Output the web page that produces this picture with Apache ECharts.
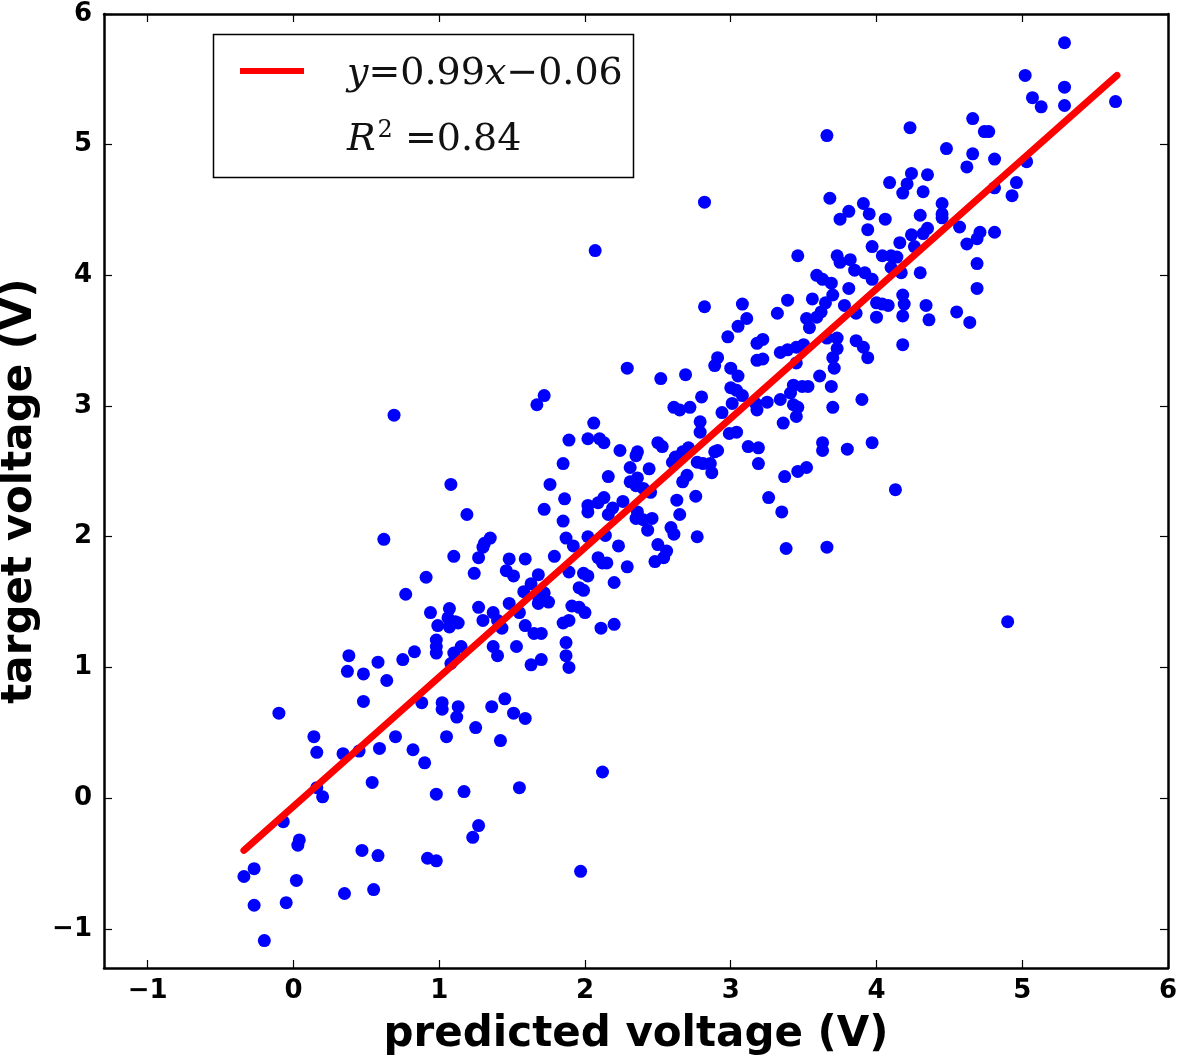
<!DOCTYPE html>
<html lang="en">

<head>
    <meta charset="UTF-8">
    <title>predicted vs target voltage</title>
    <style>
        html, body { margin: 0; padding: 0; background: #fff; }
        #main { width: 1178px; height: 1060px; }
    </style>
</head>

<body>
    <div id="main"></div>
    <script src="https://cdn.jsdelivr.net/npm/echarts@6/dist/echarts.min.js"></script>
    <script>
        // [predicted, target] pairs
        const points = [
            [-0.10, 0.65], [0.38, 1.09], [0.37, 0.97], [0.48, 0.95], [0.58, 1.04], [0.64, 0.90], [0.75, 1.06], [0.83, 1.12],
            [0.48, 0.74], [0.98, 1.21], [0.98, 1.16], [0.98, 1.11], [0.99, 1.32], [1.07, 1.31], [1.13, 1.34], [1.10, 1.11],
            [1.15, 1.16], [1.08, 1.03], [0.88, 0.73], [1.02, 0.73], [1.02, 0.68], [1.13, 0.70], [1.12, 0.62], [1.25, 0.54],
            [1.05, 0.47], [1.36, 0.70], [0.14, 0.47], [0.16, 0.35], [0.34, 0.34], [0.45, 0.36], [0.59, 0.38], [0.70, 0.47],
            [0.82, 0.37], [0.90, 0.27], [0.54, 0.12], [0.16, 0.08], [0.20, 0.01], [0.98, 0.03], [1.17, 0.05], [-0.07, -0.18],
            [0.04, -0.32], [0.03, -0.36], [1.27, -0.21], [1.23, -0.30], [0.47, -0.40], [0.58, -0.44], [0.92, -0.46], [0.98, -0.48],
            [-0.27, -0.54], [-0.34, -0.60], [0.02, -0.63], [0.35, -0.73], [0.55, -0.70], [-0.27, -0.82], [-0.05, -0.80], [-0.20, -1.09],
            [2.12, 0.20], [1.97, -0.56], [1.55, 0.08], [1.42, 0.44], [1.45, 0.76], [1.51, 0.65], [1.59, 0.61],
            [0.69, 2.93], [1.89, 2.74], [2.02, 2.75], [1.85, 2.56], [1.76, 2.40], [1.86, 2.29], [2.02, 2.24], [2.02, 2.19],
            [1.72, 2.21], [1.85, 2.12], [1.08, 2.40], [1.19, 2.17], [0.62, 1.98], [1.35, 1.99], [1.31, 1.95], [1.30, 1.92],
            [1.10, 1.85], [1.27, 1.84], [1.24, 1.72], [1.48, 1.83], [1.59, 1.83], [1.46, 1.74], [1.51, 1.70], [0.91, 1.69],
            [0.77, 1.56], [1.87, 1.99], [1.92, 1.93], [1.79, 1.85], [1.89, 1.73], [1.99, 1.72], [1.96, 1.61], [1.99, 1.59],
            [1.68, 1.71], [1.63, 1.64], [1.58, 1.58], [1.68, 1.54], [1.72, 1.57], [1.75, 1.50], [1.68, 1.49], [1.48, 1.49],
            [1.55, 1.42], [0.94, 1.42], [1.07, 1.45], [1.06, 1.38], [1.11, 1.35], [1.27, 1.46], [1.30, 1.36], [1.37, 1.42],
            [1.40, 1.36], [1.43, 1.30], [1.59, 1.32], [1.65, 1.26], [1.70, 1.26], [1.85, 1.34], [1.89, 1.36], [1.91, 1.47],
            [1.96, 1.46], [2.00, 1.42], [1.37, 1.16], [1.40, 1.09], [1.53, 1.16], [1.63, 1.02], [1.70, 1.06], [1.87, 1.19],
            [1.87, 1.09], [1.89, 1.00],
            [1.72, 3.08], [1.67, 3.01], [2.80, 3.07], [2.61, 2.99], [2.65, 2.97], [2.72, 2.99], [3.00, 3.14], [3.04, 3.12],
            [3.01, 3.02], [2.94, 2.95], [2.79, 2.88], [2.79, 2.80], [2.99, 2.79], [3.04, 2.80], [2.06, 2.87], [2.10, 2.75],
            [2.13, 2.72], [2.50, 2.72], [2.53, 2.69], [2.24, 2.66], [2.36, 2.65], [2.35, 2.62], [2.67, 2.65], [2.62, 2.61],
            [2.60, 2.57], [2.91, 2.66], [2.89, 2.65], [2.31, 2.53], [2.44, 2.52], [2.77, 2.57], [2.81, 2.56], [2.86, 2.56],
            [2.87, 2.49], [2.70, 2.47], [2.67, 2.42], [2.16, 2.46], [2.31, 2.42], [2.36, 2.45], [2.35, 2.39], [2.40, 2.37],
            [2.45, 2.34], [2.76, 2.31], [2.63, 2.28], [2.65, 2.17], [2.13, 2.30], [2.09, 2.26], [2.26, 2.27], [2.19, 2.22],
            [2.16, 2.17], [2.36, 2.19], [2.35, 2.14], [2.40, 2.13], [2.46, 2.14], [2.43, 2.05], [2.59, 2.07], [2.61, 2.02],
            [2.77, 2.00], [2.02, 2.00], [2.14, 2.01], [2.23, 1.93], [2.50, 1.94], [2.56, 1.89], [2.54, 1.84], [2.48, 1.81],
            [2.09, 1.84], [2.12, 1.80], [2.15, 1.80], [2.29, 1.77], [2.20, 1.65], [2.02, 1.70], [2.11, 1.30], [2.20, 1.33],
            [3.46, 4.15], [3.73, 4.15], [3.75, 4.10], [3.82, 4.12], [3.85, 4.04], [3.92, 4.02], [3.97, 3.97], [3.59, 4.00],
            [3.63, 3.97], [3.69, 3.94], [3.81, 3.90], [2.82, 3.76], [3.08, 3.78], [3.11, 3.67], [3.05, 3.61], [3.39, 3.81],
            [3.32, 3.71], [3.56, 3.82], [3.70, 3.85], [3.65, 3.79], [3.62, 3.72], [3.59, 3.68], [3.52, 3.67], [3.54, 3.60],
            [3.78, 3.77], [3.86, 3.71], [4.00, 3.68], [4.00, 3.79], [2.98, 3.53], [3.18, 3.48], [3.22, 3.51], [3.18, 3.35],
            [3.22, 3.36], [2.91, 3.37], [2.89, 3.31], [3.34, 3.41], [3.39, 3.43], [3.45, 3.45], [3.50, 3.47], [3.66, 3.52],
            [3.73, 3.52], [3.73, 3.44], [3.70, 3.37], [3.71, 3.29], [3.86, 3.50], [3.91, 3.45], [3.94, 3.37], [3.45, 3.33],
            [3.61, 3.23], [3.69, 3.15], [3.90, 3.05], [3.70, 2.99], [2.29, 3.29], [2.52, 3.21], [2.69, 3.24], [3.00, 3.29],
            [3.05, 3.23], [3.08, 3.08], [3.17, 3.02], [3.18, 2.97], [3.25, 3.03], [3.34, 3.05], [3.43, 3.16], [3.49, 3.15],
            [3.53, 3.15], [3.41, 3.10], [3.43, 3.01], [3.46, 2.99], [3.45, 2.92], [3.36, 2.87], [3.12, 2.69], [3.19, 2.68],
            [3.19, 2.56], [3.37, 2.46], [3.46, 2.50], [3.52, 2.53], [3.63, 2.72], [3.63, 2.66], [3.80, 2.67], [3.97, 2.72],
            [3.26, 2.30], [3.35, 2.19], [3.38, 1.91], [3.66, 1.92], [2.71, 2.68],
            [4.48, 4.97], [4.66, 4.93], [4.81, 4.89], [4.62, 4.83], [4.96, 4.71], [4.81, 4.67], [4.93, 4.61], [4.09, 4.71],
            [4.24, 4.78], [4.21, 4.70], [4.18, 4.63], [4.35, 4.77], [4.32, 4.64], [3.68, 4.59], [3.91, 4.55], [3.81, 4.49],
            [3.75, 4.43], [3.95, 4.47], [4.06, 4.43], [3.94, 4.35], [4.30, 4.46], [4.35, 4.36], [4.32, 4.32], [4.45, 4.55],
            [4.45, 4.47], [4.45, 4.44], [4.57, 4.37], [4.71, 4.33], [4.69, 4.28], [4.62, 4.24], [4.81, 4.33], [4.24, 4.31],
            [4.16, 4.25], [4.26, 4.22], [3.97, 4.22], [4.04, 4.15], [4.10, 4.15], [4.14, 4.14], [4.10, 4.06], [4.17, 4.02],
            [4.30, 4.02], [4.69, 4.09], [4.69, 3.90], [4.04, 3.78], [4.08, 3.77], [4.18, 3.85], [4.19, 3.78], [4.18, 3.69],
            [4.34, 3.77], [4.36, 3.66], [4.55, 3.72], [4.64, 3.64], [4.18, 3.47],
            [5.29, 5.78], [5.02, 5.53], [5.29, 5.44], [5.29, 5.30], [5.07, 5.36], [5.13, 5.29], [5.64, 5.33], [4.66, 5.20],
            [4.74, 5.10], [4.77, 5.10], [4.23, 5.13], [5.03, 4.87],
            [3.66, 5.07], [4.13, 2.36], [4.90, 1.35], [2.07, 4.19], [2.82, 4.56]
        ];

        // fitted line, ends
        const fitX = [-0.34, 5.65];
        const fitY = [-0.40, 5.53];
        const fitSlope = '0.99';
        const fitIntercept = '0.06';
        const r2Label = '0.84';

        const ticks = [-1, 0, 1, 2, 3, 4, 5, 6];

        const chart = echarts.init(document.getElementById('main'));

        const tickFont = {
            fontFamily: 'DejaVu Sans',
            fontWeight: 'bold',
            fontSize: 26,
            color: '#000'
        };
        const titleFont = { fontFamily: 'DejaVu Sans', fontWeight: 'bold', fontSize: 42, color: '#000' };
        const minus = v => String(v).replace('-', '\u2212');

        function axisCommon(show) {
            return {
                type: 'value',
                min: -1.3,
                max: 6,
                splitLine: { show: false },
                axisLine: { show: true, onZero: false, lineStyle: { color: '#000', width: 2.5 } },
                axisTick: { show: true, inside: true, length: 8, customValues: ticks, lineStyle: { color: '#000', width: 1.2 } },
                axisLabel: Object.assign({ show: show, customValues: ticks, formatter: minus }, tickFont)
            };
        }

        const xBottom = Object.assign(axisCommon(true), {
            position: 'bottom',
            name: 'predicted voltage (V)',
            nameLocation: 'middle',
            nameGap: 46,
            nameTextStyle: titleFont
        });
        xBottom.axisLabel.margin = 10;
        const xTop = Object.assign(axisCommon(false), { position: 'top' });

        const yLeft = Object.assign(axisCommon(true), {
            position: 'left',
            name: 'target voltage (V)',
            nameLocation: 'middle',
            nameGap: 56,
            nameTextStyle: titleFont
        });
        yLeft.axisLabel.margin = 12;
        const yRight = Object.assign(axisCommon(false), { position: 'right' });

        const legendMath = {
            i: { fontFamily: 'DejaVu Serif', fontStyle: 'italic', fontSize: 38, fill: '#111' },
            n: { fontFamily: 'DejaVu Serif', fontSize: 38, fill: '#111' },
            s: { fontFamily: 'DejaVu Serif', fontSize: 24, fill: '#111', padding: [0, 0, 18, 2] }
        };

        chart.setOption({
            animation: false,
            backgroundColor: '#fff',
            grid: { left: 104, top: 14, right: 10, bottom: 92, containLabel: false, outerBoundsMode: 'none' },
            xAxis: [xBottom, xTop],
            yAxis: [yLeft, yRight],
            series: [
                {
                    type: 'scatter',
                    data: points,
                    symbolSize: 13,
                    itemStyle: { color: '#0000ff', opacity: 1 },
                    z: 2
                },
                {
                    type: 'line',
                    data: fitX.map((x, i) => [x, fitY[i]]),
                    showSymbol: false,
                    lineStyle: { color: '#ff0000', width: 7, cap: 'round' },
                    z: 3
                }
            ],
            graphic: [
                // legend box
                {
                    type: 'rect',
                    shape: { x: 213.5, y: 34.5, width: 420, height: 143 },
                    style: { fill: '#fff', stroke: '#000', lineWidth: 1.5 },
                    z: 10
                },
                {
                    type: 'line',
                    shape: { x1: 240, y1: 71, x2: 304, y2: 71 },
                    style: { stroke: '#ff0000', lineWidth: 6 },
                    z: 11
                },
                {
                    type: 'text',
                    left: 347,
                    top: 55,
                    style: {
                        text: '{i|y}{n|=' + fitSlope + '}{i|x}{n|\u2212' + fitIntercept + '}',
                        rich: legendMath
                    },
                    z: 11
                },
                {
                    type: 'text',
                    left: 347,
                    top: 119,
                    style: {
                        text: '{i|R}{s|2}{n| =' + r2Label + '}',
                        rich: legendMath
                    },
                    z: 11
                }
            ]
        });
    </script>
</body>

</html>
